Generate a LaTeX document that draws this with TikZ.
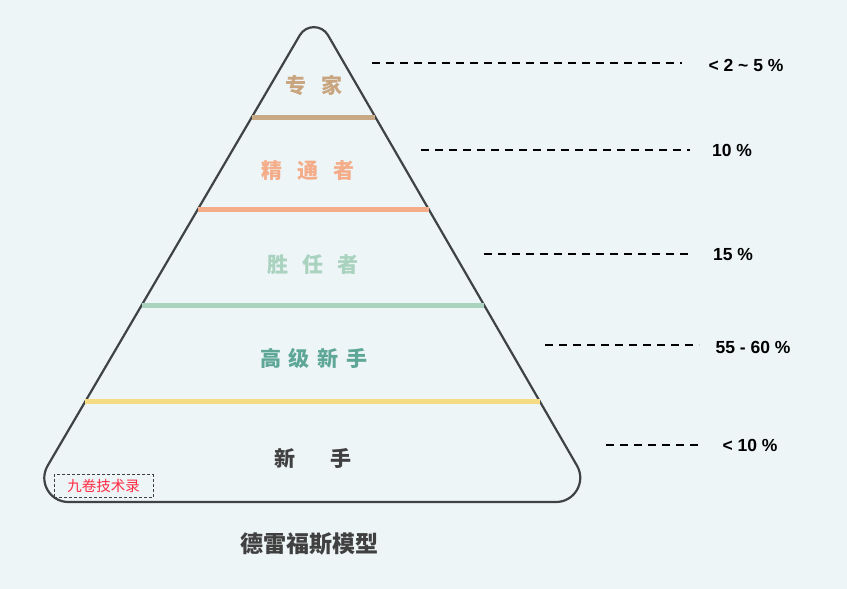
\documentclass[tikz,border=0pt]{standalone}
\usepackage{fontspec}
\setmainfont{Liberation Sans}
\newfontfamily\cjk{Noto Sans CJK SC}
\usetikzlibrary{calc}

\definecolor{bg}{HTML}{EDF5F7}
\definecolor{edge}{HTML}{3F4346}
\definecolor{expert}{HTML}{C9A57F}
\definecolor{expertline}{HTML}{C8A985}
\definecolor{proficient}{HTML}{F5AC88}
\definecolor{competent}{HTML}{A9D2BF}
\definecolor{advanced}{HTML}{5EA796}
\definecolor{novice}{HTML}{F5DC82}
\definecolor{darktext}{HTML}{404040}
\definecolor{stamp}{HTML}{FF2A44}

\begin{document}
\begin{tikzpicture}[x=1pt,y=-1pt,
every node/.style={inner sep=0pt},
level/.style={line width=5pt},
stage/.style={font=\cjk\fontsize{21}{24}\selectfont\bfseries},
pct/.style={font=\fontsize{17.5}{19}\selectfont\bfseries},
guide/.style={dash pattern=on 8pt off 6pt,line width=2pt}]
\fill[bg] (0,0) rectangle (847,589);
\useasboundingbox (0,0) rectangle (847,589);
% pyramid corners
\coordinate (A) at (314,11);
\coordinate (B) at (26.4,502);
\coordinate (C) at (598,502);
\coordinate (M) at ($(B)!0.5!(C)$);
\coordinate (Ab) at ($(A)!28pt!(B)$);
\coordinate (Ac) at ($(A)!28pt!(C)$);
\coordinate (Ba) at ($(B)!42pt!(A)$);
\coordinate (Bc) at ($(B)!42pt!(C)$);
\coordinate (Ca) at ($(C)!42pt!(A)$);
\coordinate (Cb) at ($(C)!42pt!(B)$);
\draw[edge,line width=2.2pt]
  (M) -- (Cb) .. controls ($(Cb)!0.444!(C)$) and ($(Ca)!0.444!(C)$) .. (Ca)
  -- (Ac) .. controls ($(Ac)!0.444!(A)$) and ($(Ab)!0.444!(A)$) .. (Ab)
  -- (Ba) .. controls ($(Ba)!0.444!(B)$) and ($(Bc)!0.444!(B)$) .. (Bc)
  -- cycle;
% level lines
\coordinate (L1) at ($(A)!0.2159!(B)$);
\coordinate (R1) at ($(A)!0.2159!(C)$);
\coordinate (L2) at ($(A)!0.4033!(B)$);
\coordinate (R2) at ($(A)!0.4033!(C)$);
\coordinate (L3) at ($(A)!0.5988!(B)$);
\coordinate (R3) at ($(A)!0.5988!(C)$);
\coordinate (L4) at ($(A)!0.7963!(B)$);
\coordinate (R4) at ($(A)!0.7963!(C)$);
\draw[level,expertline] (L1) -- (R1);
\draw[level,proficient] (L2) -- (R2);
\draw[level,competent] (L3) -- (R3);
\draw[level,novice] (L4) -- (R4);
% stage names
\node[stage,expert] (S1) at (314,85) {专\hspace{16pt}家};
\node[stage,proficient] (S2) at (308,171) {精\hspace{15pt}通\hspace{15pt}者};
\node[stage,competent] (S3) at (313,265) {胜\hspace{14pt}任\hspace{14pt}者};
\node[stage,advanced] (S4) at (314,358) {高\hspace{8pt}级\hspace{8pt}新\hspace{8pt}手};
\node[stage,darktext] (S5) at (313,458) {新\hspace{35pt}手};
% percentages
\node[pct] (P1) at (746,65) {< 2 \textasciitilde\ 5 \%};
\node[pct] (P2) at (732,150) {10 \%};
\node[pct] (P3) at (733,254) {15 \%};
\node[pct] (P4) at (753,347) {55 - 60 \%};
\node[pct] (P5) at (750,445) {< 10 \%};
\coordinate (G1) at (372,63);  \coordinate (H1) at (682,63);
\coordinate (G2) at (421,150); \coordinate (H2) at (690,150);
\coordinate (G3) at (484,254); \coordinate (H3) at (692,254);
\coordinate (G4) at (545,345); \coordinate (H4) at (699,345);
\coordinate (G5) at (606,445); \coordinate (H5) at (702,445);
\draw[guide] (G1) -- (H1);
\draw[guide] (G2) -- (H2);
\draw[guide] (G3) -- (H3);
\draw[guide] (G4) -- (H4);
\draw[guide] (G5) -- (H5);
% watermark and title
\node[draw=darktext,dash pattern=on 3pt off 2pt,line width=1pt,
  minimum width=99pt,minimum height=23pt,
  font=\cjk\fontsize{14.5}{16}\selectfont,text=stamp] (W) at (103.5,486) {九卷技术录};
\node[font=\cjk\fontsize{23}{25}\selectfont\bfseries,darktext] (T) at (309,544) {德雷福斯模型};
\end{tikzpicture}
\end{document}
